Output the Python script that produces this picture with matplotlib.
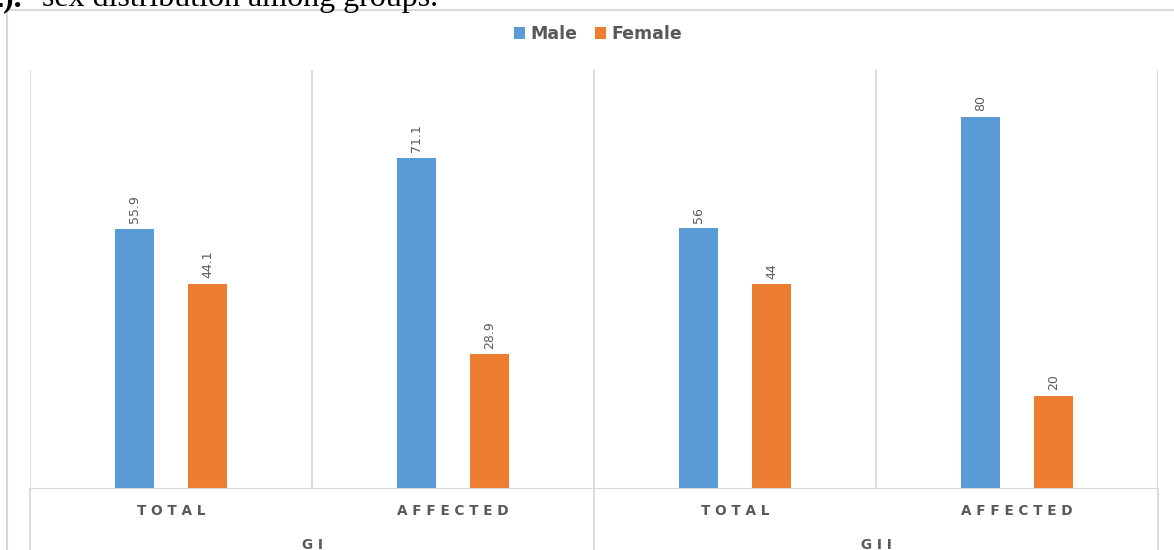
import matplotlib
matplotlib.use("Agg")
import matplotlib.pyplot as plt
from matplotlib.patches import Rectangle
import numpy as np

categories = ["TOTAL", "AFFECTED", "TOTAL", "AFFECTED"]
groups = ["GI", "GII"]
male = [55.9, 71.1, 56, 80]
female = [44.1, 28.9, 44, 20]
male_labels = ["55.9", "71.1", "56", "80"]
female_labels = ["44.1", "28.9", "44", "20"]

BLUE = "#5B9BD5"
ORANGE = "#ED7D31"
GRID = "#D9D9D9"
TXT = "#595959"

W, H = 1174, 550
fig = plt.figure(figsize=(W / 100, H / 100), dpi=100)

# outer chart frame (extends past right/bottom edges)
fig.patches.append(Rectangle((7 / W, -0.1), 1.2, (550 - 10) / H + 0.1,
                             transform=fig.transFigure, fill=False,
                             edgecolor=GRID, linewidth=1.5, zorder=0))

# caption at top (cropped in the reference)
fig.text(22 / W, 1 - 6 / H, "2).", family="Liberation Serif", weight="bold",
         fontsize=23, ha="right", va="baseline", color="black")
fig.text(42 / W, 1 - 6 / H, "sex distribution among groups.",
         family="Liberation Serif", fontsize=23, ha="left", va="baseline",
         color="black")

ax = fig.add_axes([30 / W, (550 - 489) / H, 1128 / W, 419 / H])
x = np.arange(len(categories))
bw = 0.138
off = 0.129
bm = ax.bar(x - off, male, bw, color=BLUE, zorder=3)
bf = ax.bar(x + off, female, bw, color=ORANGE, zorder=3)

for xi, v, lab in zip(x - off, male, male_labels):
    ax.text(xi, v + 1.2, lab, rotation=90, ha="center", va="bottom",
            fontsize=9, color=TXT, family="DejaVu Sans")
for xi, v, lab in zip(x + off, female, female_labels):
    ax.text(xi, v + 1.2, lab, rotation=90, ha="center", va="bottom",
            fontsize=9, color=TXT, family="DejaVu Sans")

ax.set_xlim(-0.5, len(categories) - 0.5)
ax.set_ylim(0, 90)
for s in ax.spines.values():
    s.set_visible(False)
ax.set_xticks([])
ax.set_yticks([])
for gx in np.arange(-0.5, len(categories), 1.0):
    ax.axvline(gx, color=GRID, linewidth=1.3, zorder=1)
ax.axhline(0, color=GRID, linewidth=1.5, zorder=4)

trans = ax.get_xaxis_transform()
def spaced(s):
    return " ".join(s)
for xi, c in zip(x, categories):
    ax.text(xi, -22 / 419, spaced(c), transform=trans, ha="center", va="center",
            fontsize=9.8, weight="bold", color=TXT, family="DejaVu Sans")
for gi, g in enumerate(groups):
    ax.text(2 * gi + 0.5, -56 / 419, spaced(g), transform=trans, ha="center",
            va="center", fontsize=9.8, weight="bold", color=TXT, family="DejaVu Sans")
# separators below axis between groups
for gx in [-0.5, 1.5, 3.5]:
    ax.plot([gx, gx], [0, -70 / 419], transform=trans, color=GRID,
            linewidth=1.3, clip_on=False)

leg = fig.legend([bm, bf], ["Male", "Female"], loc="center",
                 bbox_to_anchor=(598 / W, 1 - 34 / H), ncol=2, frameon=False,
                 prop={"family": "DejaVu Sans", "weight": "bold", "size": 12.5},
                 handlelength=0.65, handleheight=0.65, handletextpad=0.3,
                 columnspacing=1.0)
for t in leg.get_texts():
    t.set_color(TXT)

fig.savefig("out.png", dpi=100)
